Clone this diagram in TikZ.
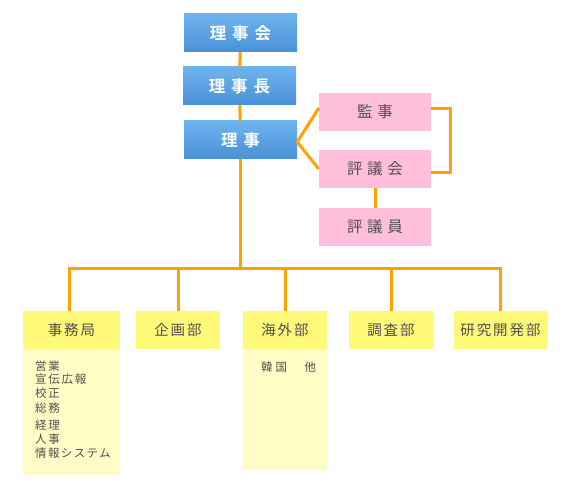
\documentclass[tikz,border=0pt]{standalone}
\usepackage{fontspec}
\usetikzlibrary{calc}
\setmainfont{Noto Sans CJK JP}[BoldFont={Noto Sans CJK JP Bold}]
\definecolor{bluetop}{HTML}{6DB4EE}
\definecolor{bluebot}{HTML}{4A90D9}
\definecolor{pinkbox}{HTML}{FFBFDB}
\definecolor{yellowbox}{HTML}{FFF97A}
\definecolor{paleyellow}{HTML}{FFFCC6}
\definecolor{orangeline}{HTML}{FFA200}
\definecolor{graytext}{HTML}{505050}
\newcommand\lsp[2]{{\addfontfeature{LetterSpace=#1}#2}\hspace{-0.#1em}}
\tikzset{
  bluebox/.style={minimum width=113pt, minimum height=38pt, inner sep=0pt,
    top color=bluetop, bottom color=bluebot, text=white,
    font=\bfseries\fontsize{16.5}{16.5}\selectfont},
  pinkbox/.style={minimum width=112pt, minimum height=38pt, inner sep=0pt,
    fill=pinkbox, text=graytext, font=\fontsize{15.5}{15.5}\selectfont},
  deptbox/.style={minimum height=38pt, inner sep=0pt,
    fill=yellowbox, text=graytext, font=\fontsize{14.5}{14.5}\selectfont},
  subbox/.style={inner sep=0pt, fill=paleyellow},
  subtext/.style={anchor=west, inner sep=0pt, text=graytext,
    font=\fontsize{11.5}{11.5}\selectfont},
  link/.style={draw=orangeline, line width=3pt}
}
\begin{document}
\begin{tikzpicture}[x=1pt,y=-1pt]
\useasboundingbox (0,0) rectangle (582,481);
% top chain
\node[bluebox] (rkai) at (240.5,33) {\lsp{35}{理事会}};
\node[bluebox] (rcho) at (239.5,86) {\lsp{35}{理事長}};
\node[bluebox] (ri)   at (240.5,140) {\lsp{35}{理事}};
% side boxes
\node[pinkbox] (kanji) at (375,112) {\lsp{30}{監事}};
\node[pinkbox] (hyogi) at (375,169) {\lsp{30}{評議会}};
\node[pinkbox] (hyoin) at (375,227) {\lsp{30}{評議員}};
% departments
\node[deptbox, minimum width=97pt] (jimu)   at (71.5,330) {\lsp{13}{事務局}};
\node[deptbox, minimum width=84pt] (kikaku) at (178,330)  {\lsp{13}{企画部}};
\node[deptbox, minimum width=84pt] (kaigai) at (285,330)  {\lsp{13}{海外部}};
\node[deptbox, minimum width=84pt] (chosa)  at (391,330)  {\lsp{13}{調査部}};
\node[deptbox, minimum width=93pt] (kenkyu) at (500.5,330) {\lsp{13}{研究開発部}};
% sub boxes
\node[subbox, minimum width=97pt, minimum height=126pt] (jimusub) at (71.5,412) {};
\node[subbox, minimum width=84pt, minimum height=121pt] (kaigaisub) at (285,409.5) {};
\node[subtext] (s1) at (35,366) {\lsp{15}{営業}};
\node[subtext] (s2) at (35,379) {\lsp{15}{宣伝広報}};
\node[subtext] (s3) at (35,393) {\lsp{15}{校正}};
\node[subtext] (s4) at (35,408) {\lsp{15}{総務}};
\node[subtext] (s5) at (35,425) {\lsp{15}{経理}};
\node[subtext] (s6) at (35,439) {\lsp{15}{人事}};
\node[subtext] (s7) at (35,453) {\lsp{12}{情報システム}};
\node[subtext] (k1) at (261,367) {\lsp{26}{韓国　他}};
% connectors
\draw[link] (rkai) -- (rcho);
\draw[link] (rcho) -- (ri);
\coordinate (riout) at ($(ri.east)+(0,2)$);
\coordinate (kanjiin) at ($(kanji.west)+(0,-4)$);
\draw[link] (riout) -- (kanjiin);
\draw[link] (riout) -- (hyogi.west);
\coordinate (bk1) at ($(kanji.east)+(0,-3)$);
\coordinate (bk2) at ($(hyogi.east)+(0,4)$);
\draw[link] (bk1) -- ++(19,0) |- (bk2);
\draw[link] (hyogi) -- (hyoin);
\coordinate (bus) at (240,269);
\coordinate (jimudrop) at (69,0);
\draw[link] (ri.south) -- (ri.south |- bus);
\draw[link] (jimu.north -| jimudrop) |- (bus) -| (kenkyu.north);
\draw[link] (kikaku.north) -- (kikaku.north |- bus);
\draw[link] (kaigai.north) -- (kaigai.north |- bus);
\draw[link] (chosa.north) -- (chosa.north |- bus);
\end{tikzpicture}
\end{document}
